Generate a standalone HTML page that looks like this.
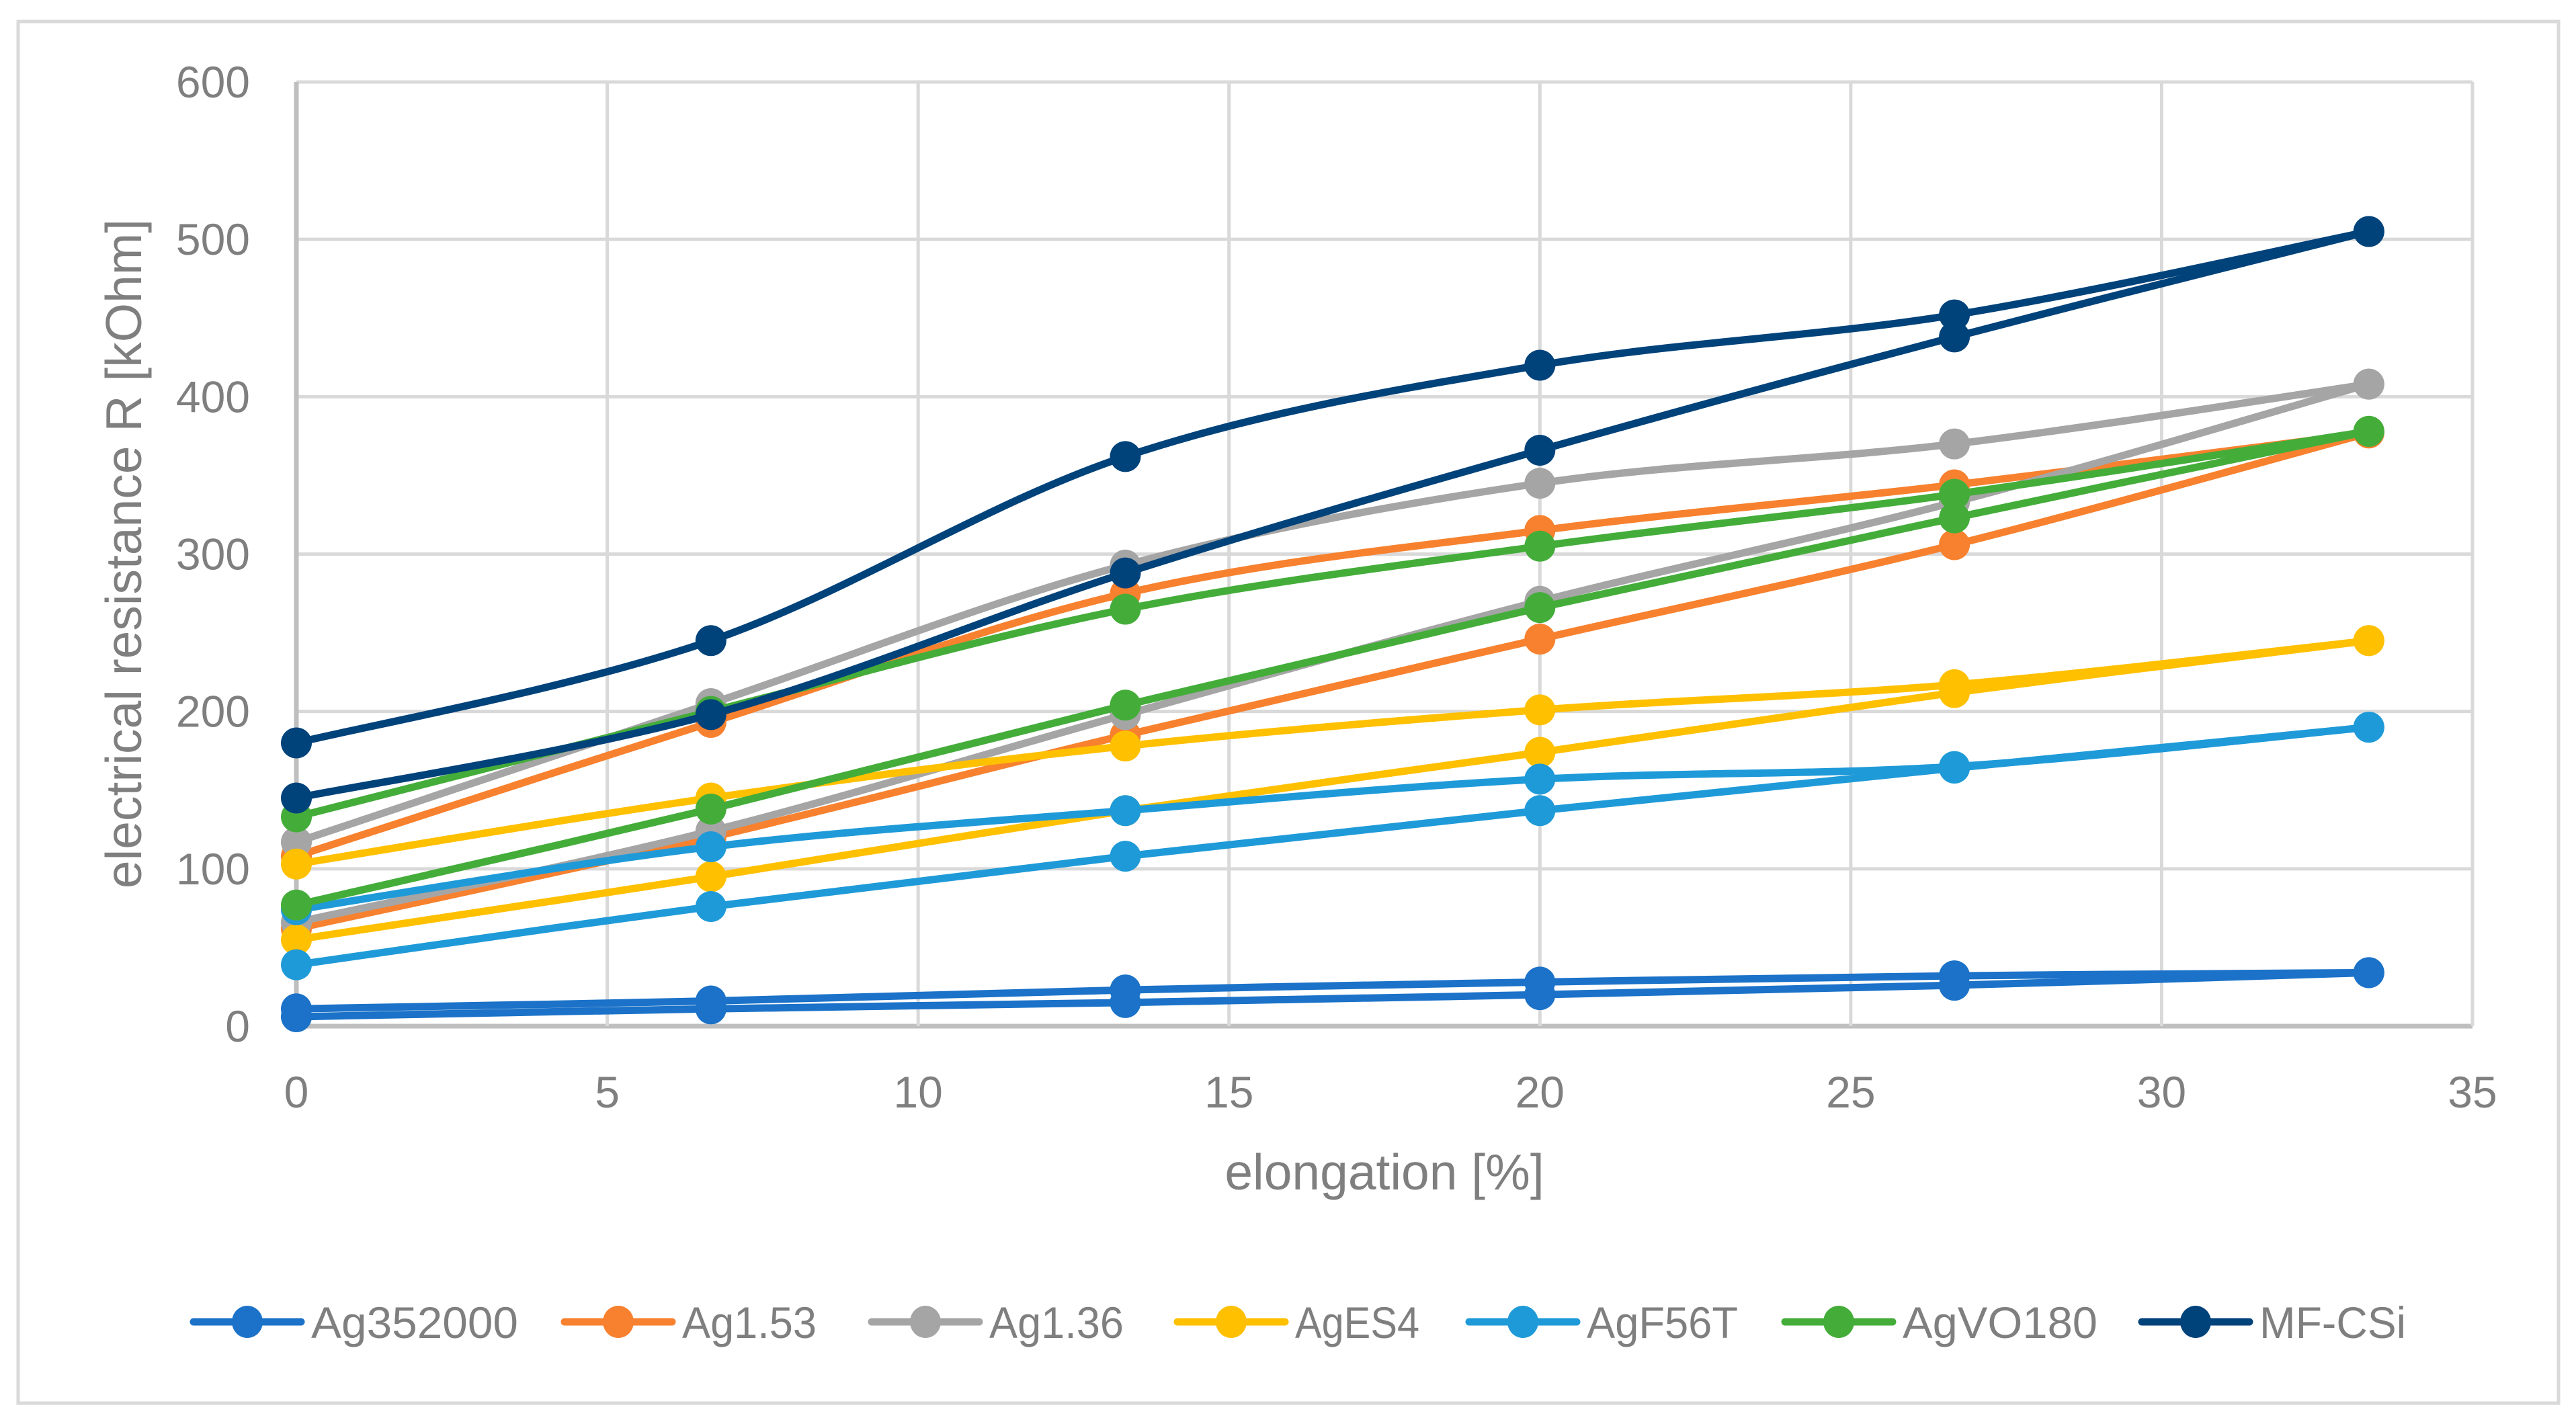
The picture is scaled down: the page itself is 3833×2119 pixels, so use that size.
<!DOCTYPE html>
<html><head><meta charset="utf-8"><style>
html,body{margin:0;padding:0;background:#fff;}
svg{display:block;}
text{font-family:"Liberation Sans",sans-serif;fill:#7f7f7f;}
</style></head><body>
<svg id="chart" xmlns="http://www.w3.org/2000/svg" width="3833" height="2119" viewBox="0 0 3833 2119">
<rect x="27" y="32" width="3780" height="2056" fill="#fff" stroke="#d9d9d9" stroke-width="5"/>
<g id="grid"></g>
<g id="series"></g>
<g id="legend"></g>
<text x="2060" y="1770" font-size="75" text-anchor="middle">elongation [%]</text>
<text transform="translate(210,824) rotate(-90)" font-size="75" text-anchor="middle">electrical resistance R [kOhm]</text>
</svg>
<script>
const xPts = [0, 6.667, 13.333, 20, 26.667, 33.333];
const xTicks = [0, 5, 10, 15, 20, 25, 30, 35];
const yTicks = [0, 100, 200, 300, 400, 500, 600];
const seriesNames = ["Ag352000","Ag1.53","Ag1.36","AgES4","AgF56T","AgVO180","MF-CSi"];
const seriesColors = ["#1b72c8","#f7812e","#a5a5a5","#ffc000","#1f9ad8","#44ad3a","#00427a"];
const lower_Ag352000 = [6, 11, 15, 20, 26, 34];
const upper_Ag352000 = [11, 16, 23, 28, 32, 34];
const lower_Ag153 = [62, 120, 185, 246, 306, 377];
const upper_Ag153 = [108, 193, 275, 315, 344, 377];
const lower_Ag136 = [66, 124, 198, 270, 333, 408];
const upper_Ag136 = [117, 205, 293, 345, 370, 408];
const lower_AgES4 = [55, 95, 137, 174, 212, 245];
const upper_AgES4 = [103, 145, 178, 201, 217, 245];
const lower_AgF56T = [39, 76, 108, 137, 164, 190];
const upper_AgF56T = [74, 114, 137, 157, 165, 190];
const lower_AgVO180 = [77, 138, 204, 266, 323, 378];
const upper_AgVO180 = [133, 200, 265, 305, 338, 378];
const lower_MFCSi = [145, 198, 288, 366, 438, 505];
const upper_MFCSi = [180, 245, 362, 420, 452, 505];

const lowers=[lower_Ag352000,lower_Ag153,lower_Ag136,lower_AgES4,lower_AgF56T,lower_AgVO180,lower_MFCSi];
const uppers=[upper_Ag352000,upper_Ag153,upper_Ag136,upper_AgES4,upper_AgF56T,upper_AgVO180,upper_MFCSi];

const L=441,R=3679,T=122,B=1527;
const sx=v=>L+(v-0)/(35-0)*(R-L);
const sy=v=>B-(v-0)/(600-0)*(B-T);
const NS="http://www.w3.org/2000/svg";
function mk(tag,attrs,parent){const e=document.createElementNS(NS,tag);for(const k in attrs)e.setAttribute(k,attrs[k]);parent.appendChild(e);return e;}
const grid=document.getElementById('grid');
yTicks.forEach(t=>{
  const ln=mk('line',{x1:L,x2:R,y1:sy(t),y2:sy(t),stroke:t===0?'#bfbfbf':'#d9d9d9','stroke-width':t===0?7:5},grid);
  
  
  const tx=mk('text',{x:372,y:sy(t)+23,'font-size':66,'text-anchor':'end'},grid);
  tx.textContent=t;
  
  
});
xTicks.forEach(t=>{
  const ln=mk('line',{x1:sx(t),x2:sx(t),y1:T,y2:B,stroke:t===0?'#bfbfbf':'#d9d9d9','stroke-width':t===0?7:5},grid);
  
  
  const tx=mk('text',{x:sx(t),y:1648,'font-size':66,'text-anchor':'middle'},grid);
  tx.textContent=t;
  
  
});
function smoothPath(pts){
  let d=`M${pts[0][0]},${pts[0][1]}`;
  for(let i=0;i<pts.length-1;i++){
    const p0=pts[i-1]||pts[i],p1=pts[i],p2=pts[i+1],p3=pts[i+2]||pts[i+1];
    const c1=[p1[0]+(p2[0]-p0[0])/6,p1[1]+(p2[1]-p0[1])/6];
    const c2=[p2[0]-(p3[0]-p1[0])/6,p2[1]-(p3[1]-p1[1])/6];
    d+=` C${c1[0]},${c1[1]} ${c2[0]},${c2[1]} ${p2[0]},${p2[1]}`;
  }
  return d;
}
const sg=document.getElementById('series');
seriesNames.forEach((n,i)=>{
  const g=mk('g',{},sg);
  
  
  [lowers[i],uppers[i]].forEach(arr=>{
    const pts=arr.map((v,j)=>[sx(xPts[j]),sy(v)]);
    const p=mk('path',{d:smoothPath(pts),fill:'none',stroke:seriesColors[i],'stroke-width':11,'stroke-linecap':'round'},g);
    
    
  });
  [lowers[i],uppers[i]].forEach(arr=>{
    arr.forEach((v,j)=>{
      const c=mk('circle',{cx:sx(xPts[j]),cy:sy(v),r:23,fill:seriesColors[i]},g);
      
      
    });
  });
});
const lg=document.getElementById('legend');
const legX=[283,835,1292,1747,2181,2651,3182];
const legW=[308,200,200,185,225,290,218];
seriesNames.forEach((n,i)=>{
  const g=mk('g',{},lg);
  
  
  const y=1967;
  mk('line',{x1:legX[i]+5,x2:legX[i]+165,y1:y,y2:y,stroke:seriesColors[i],'stroke-width':11,'stroke-linecap':'round'},g);
  mk('ellipse',{cx:legX[i]+85,cy:y,rx:23,ry:24,fill:seriesColors[i]},g);
  const t=mk('text',{x:legX[i]+180,y:y+24,'font-size':66,textLength:legW[i],lengthAdjust:'spacingAndGlyphs'},g);
  t.textContent=n;
});
</script>
</body></html>
